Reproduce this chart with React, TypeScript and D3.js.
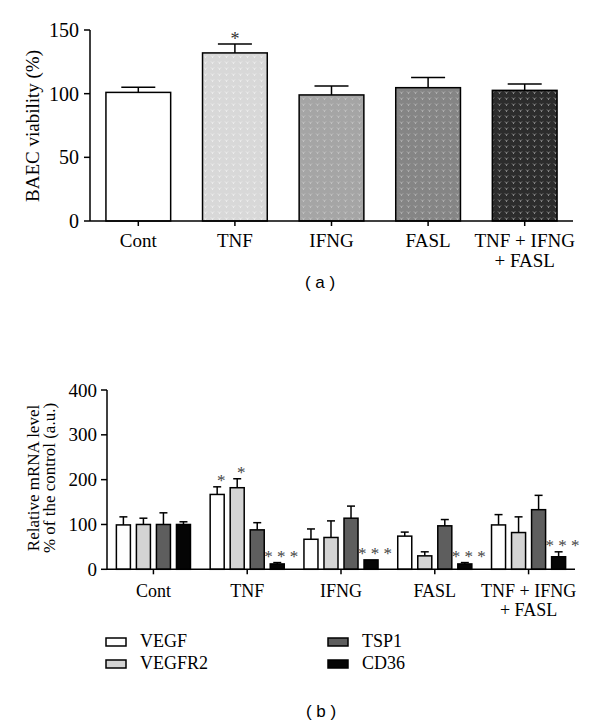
import React from "react";
import * as d3 from "d3";

const catLabelsA: string[][] = [["Cont"], ["TNF"], ["IFNG"], ["FASL"], ["TNF + IFNG", "+ FASL"]];
const viabilityA = [101, 132, 99, 104.7, 102.6];
const viabilityErrA = [4, 7, 7, 8, 5];
const viabilitySigA = ["", "*", "", "", ""];
const yTicksA = [0, 50, 100, 150];

const catLabelsB: string[][] = [["Cont"], ["TNF"], ["IFNG"], ["FASL"], ["TNF + IFNG", "+ FASL"]];
const genes = ["VEGF", "VEGFR2", "TSP1", "CD36"];
const vegf = [99, 167, 67, 74, 99];
const vegfErr = [18, 17, 23, 9, 23];
const vegfr2 = [100, 182, 71, 30, 82];
const vegfr2Err = [14, 20, 37, 9, 35];
const tsp1 = [100, 88, 114, 97, 133];
const tsp1Err = [26, 16, 27, 14, 32];
const cd36 = [100, 12, 21, 12, 28];
const cd36Err = [6, 3, 0, 3, 11];
const vegfSig = ["", "*", "", "", ""];
const vegfr2Sig = ["", "*", "", "", ""];
const tsp1Sig = ["", "", "", "", ""];
const cd36Sig = ["", "* * *", "* * *", "* * *", "* * *"];
const yTicksB = [0, 100, 200, 300, 400];

const FONT = "'Liberation Serif', 'Times New Roman', serif";

export default function App() {
  // ---------- chart a ----------
  const xA = d3.scaleBand<number>().domain(d3.range(5)).range([90, 573]).paddingInner(0.33).paddingOuter(0.165);
  const yA = d3.scaleLinear().domain([0, 150]).range([221, 30]);
  const fillsA = ["#ffffff", "url(#patA1)", "url(#patA2)", "url(#patA3)", "url(#patA4)"];
  const patDefs = [
    { id: "patA1", base: "#d8d8d8", dot: "#ededed" },
    { id: "patA2", base: "#a5a5a5", dot: "#c2c2c2" },
    { id: "patA3", base: "#858585", dot: "#b0b0b0" },
    { id: "patA4", base: "#2c2c2c", dot: "#8a8a8a" },
  ];

  // ---------- chart b ----------
  const xB = d3.scaleBand<number>().domain(d3.range(5)).range([107, 575]).paddingInner(0.21).paddingOuter(0.1);
  const xInner = d3.scaleBand<number>().domain(d3.range(4)).range([0, xB.bandwidth()]).paddingInner(0.3).paddingOuter(0);
  const yB = d3.scaleLinear().domain([0, 400]).range([569.3, 390]);
  const seriesB = [
    { vals: vegf, errs: vegfErr, sig: vegfSig, fill: "#ffffff" },
    { vals: vegfr2, errs: vegfr2Err, sig: vegfr2Sig, fill: "#d4d4d4" },
    { vals: tsp1, errs: tsp1Err, sig: tsp1Sig, fill: "#5e5e5e" },
    { vals: cd36, errs: cd36Err, sig: cd36Sig, fill: "#050505" },
  ];
  const legendPos = [
    { x: 106, y: 638 },
    { x: 106, y: 660 },
    { x: 328, y: 638 },
    { x: 328, y: 660 },
  ];

  return (
    <svg width={600} height={727} style={{ position: "absolute", left: 0, top: 0, background: "#fff" }} fontFamily={FONT}>
      <defs>
        {patDefs.map((p) => (
          <pattern key={p.id} id={p.id} width={7} height={6} patternUnits="userSpaceOnUse">
            <rect width={7} height={6} fill={p.base} />
            <path d="M1,1.5 L2.5,3 L4,1.5 M2.5,3 L2.5,4" stroke={p.dot} strokeWidth={1} fill="none" />
          </pattern>
        ))}
      </defs>

      {/* ===== Chart (a) ===== */}
      <g>
        <line x1={90} x2={90} y1={yA(150)} y2={yA(0)} stroke="#000" strokeWidth={1.5} />
        {yTicksA.map((t) => (
          <g key={t}>
            <line x1={84} x2={90} y1={yA(t)} y2={yA(t)} stroke="#000" strokeWidth={1.5} />
            <text x={79} y={yA(t)} dy="0.35em" textAnchor="end" fontSize={20}>{t}</text>
          </g>
        ))}
        <text transform={`translate(32,126) rotate(-90)`} textAnchor="middle" dy="0.35em" fontSize={19}>BAEC viability (%)</text>
        {viabilityA.map((v, i) => {
          const x0 = xA(i)!;
          const w = xA.bandwidth();
          const cx = x0 + w / 2;
          const top = yA(v);
          const et = yA(v + viabilityErrA[i]);
          return (
            <g key={i}>
              <line x1={cx} x2={cx} y1={top} y2={et} stroke="#000" strokeWidth={1.5} />
              <line x1={cx - 17} x2={cx + 17} y1={et} y2={et} stroke="#000" strokeWidth={1.5} />
              <rect x={x0} y={top} width={w} height={yA(0) - top} fill={fillsA[i]} stroke="#000" strokeWidth={1.5} />
              {viabilitySigA[i] && (
                <text x={cx} y={et - 9} dy="0.55em" textAnchor="middle" fontSize={18} fill="#333">{viabilitySigA[i]}</text>
              )}
            </g>
          );
        })}
        <line x1={90} x2={573} y1={yA(0)} y2={yA(0)} stroke="#000" strokeWidth={1.5} />
        {catLabelsA.map((lines, i) => {
          const cx = xA(i)! + xA.bandwidth() / 2;
          return (
            <g key={i}>
              <line x1={cx} x2={cx} y1={yA(0)} y2={yA(0) + 5} stroke="#000" strokeWidth={1.5} />
              {lines.map((l, j) => (
                <text key={j} x={cx} y={247 + j * 20} textAnchor="middle" fontSize={19}>{l}</text>
              ))}
            </g>
          );
        })}
        <text x={320} y={288} textAnchor="middle" fontSize={17} fontFamily="'Liberation Sans', Arial, sans-serif">( a )</text>
      </g>

      {/* ===== Chart (b) ===== */}
      <g>
        <line x1={107} x2={107} y1={yB(400)} y2={yB(0)} stroke="#000" strokeWidth={1.5} />
        {yTicksB.map((t) => (
          <g key={t}>
            <line x1={101} x2={107} y1={yB(t)} y2={yB(t)} stroke="#000" strokeWidth={1.5} />
            <text x={97} y={yB(t)} dy="0.35em" textAnchor="end" fontSize={19}>{t}</text>
          </g>
        ))}
        <text transform={`translate(33,478) rotate(-90)`} textAnchor="middle" dy="0.35em" fontSize={17}>Relative mRNA level</text>
        <text transform={`translate(49,478) rotate(-90)`} textAnchor="middle" dy="0.35em" fontSize={17}>% of the control (a.u.)</text>
        {catLabelsB.map((_, gi) =>
          seriesB.map((s, si) => {
            const x0 = xB(gi)! + xInner(si)!;
            const w = xInner.bandwidth();
            const cx = x0 + w / 2;
            const v = s.vals[gi];
            const top = yB(v);
            const et = yB(v + s.errs[gi]);
            return (
              <g key={`${gi}-${si}`}>
                {s.errs[gi] > 0 && (
                  <>
                    <line x1={cx} x2={cx} y1={top} y2={et} stroke="#000" strokeWidth={1.5} />
                    <line x1={cx - 4} x2={cx + 4} y1={et} y2={et} stroke="#000" strokeWidth={1.5} />
                  </>
                )}
                <rect x={x0} y={top} width={w} height={yB(0) - top} fill={s.fill} stroke="#000" strokeWidth={1.5} />
                {s.sig[gi] && (
                  <text x={cx + 4} y={Math.min(et, top) - 10} dy="0.55em" textAnchor="middle" fontSize={17} fill="#444">{s.sig[gi]}</text>
                )}
              </g>
            );
          })
        )}
        <line x1={107} x2={575} y1={yB(0)} y2={yB(0)} stroke="#000" strokeWidth={1.5} />
        {catLabelsB.map((lines, i) => {
          const cx = xB(i)! + xB.bandwidth() / 2;
          return (
            <g key={i}>
              <line x1={cx} x2={cx} y1={yB(0)} y2={yB(0) + 5} stroke="#000" strokeWidth={1.5} />
              {lines.map((l, j) => (
                <text key={j} x={cx} y={597 + j * 19} textAnchor="middle" fontSize={18}>{l}</text>
              ))}
            </g>
          );
        })}
        {genes.map((g, i) => (
          <g key={g}>
            <rect x={legendPos[i].x} y={legendPos[i].y} width={20} height={8} fill={seriesB[i].fill} stroke="#000" strokeWidth={1.5} />
            <text x={legendPos[i].x + 34} y={legendPos[i].y + 9} fontSize={18}>{g}</text>
          </g>
        ))}
        <text x={321} y={717} textAnchor="middle" fontSize={17} fontFamily="'Liberation Sans', Arial, sans-serif">( b )</text>
      </g>
    </svg>
  );
}
